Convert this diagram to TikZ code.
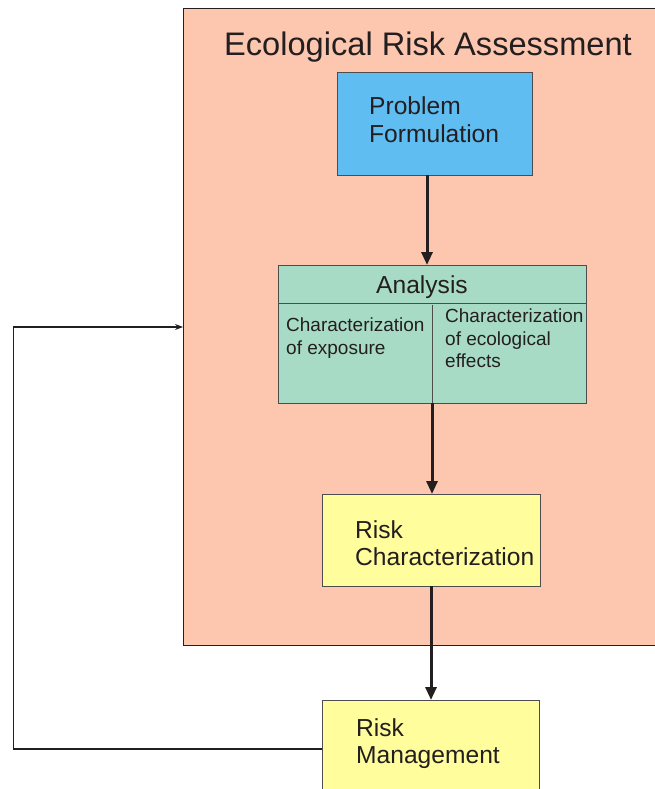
\documentclass[tikz,border=0pt]{standalone}
\usepackage{fontspec}
\setmainfont{Liberation Sans}
\usetikzlibrary{arrows.meta}
\definecolor{pinkbg}{HTML}{FDC6AF}
\definecolor{pfblue}{HTML}{5FBDF1}
\definecolor{anteal}{HTML}{A8DBC6}
\definecolor{rkyellow}{HTML}{FFFD9C}
\definecolor{ink}{HTML}{231F20}
\begin{document}
\begin{tikzpicture}[x=1pt,y=-1pt,
  boxline/.style={draw=ink!80,line width=1pt},
  flow/.style={draw=ink,line width=3pt,-{Triangle[length=13pt,width=11pt]}},
  fb/.style={draw=ink,line width=1.2pt},
  txt/.style={text=ink,align=left,inner sep=0pt,anchor=north west}]
\useasboundingbox (0,0) rectangle (654,789);
% assessment panel
\path[fill=pinkbg,draw=ink,line width=1pt] (183,9) -- (660,9) -- (660,645) -- (183,645) -- cycle;
\node[text=ink,font=\fontsize{32.6}{36}\selectfont] (title) at (428,47) {Ecological Risk Assessment};
% problem formulation
\node[boxline,fill=pfblue,minimum width=195pt,minimum height=102pt,inner sep=0pt] (pf) at (434.5,124) {};
\node[txt,font=\fontsize{24.6}{28}\selectfont] (pft) at (369,96) {Problem\\Formulation};
% analysis
\node[boxline,fill=anteal,minimum width=308pt,minimum height=138pt,inner sep=0pt] (an) at (432,334) {};
\draw[boxline] (278,303) -- (586,303);
\draw[boxline] (432,305) -- (432,403);
\node[text=ink,font=\fontsize{24.6}{28}\selectfont] (ant) at (422,287) {Analysis};
\node[txt,font=\fontsize{19}{23}\selectfont] (exp) at (286,318) {Characterization\\of exposure};
\node[txt,font=\fontsize{19}{22.5}\selectfont] (eff) at (445,309) {Characterization\\of ecological\\effects};
% risk characterization
\node[boxline,fill=rkyellow,minimum width=218pt,minimum height=92pt,inner sep=0pt] (rc) at (431,540) {};
\node[txt,font=\fontsize{24.6}{27.5}\selectfont] (rct) at (355,520) {Risk\\Characterization};
% risk management
\node[boxline,fill=rkyellow,minimum width=217pt,minimum height=100pt,inner sep=0pt] (rm) at (430.5,750) {};
\node[txt,font=\fontsize{24.6}{27.5}\selectfont] (rmt) at (356,718) {Risk\\Management};
% arrows
\coordinate (pfb) at (427,175);
\coordinate (ant1) at (427,265);
\draw[flow] (pfb) -- (ant1);
\coordinate (anb) at (432,403);
\coordinate (rct1) at (432,494);
\draw[flow] (anb) -- (rct1);
\coordinate (rcb) at (431,586);
\coordinate (rmt1) at (431,700);
\draw[flow] (rcb) -- (rmt1);
% feedback
\coordinate (fbs) at (322,749);
\coordinate (fbe) at (183,327);
\draw[fb,-{Stealth[length=8pt,width=6pt]}] (fbs) -- (13.5,749) -- (13.5,327) -- (fbe);
\end{tikzpicture}
\end{document}
